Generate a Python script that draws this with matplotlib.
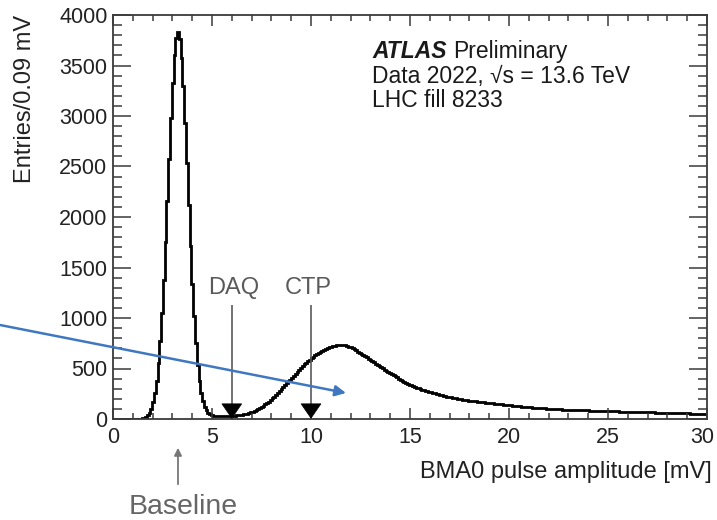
import numpy as np
import matplotlib
matplotlib.use("Agg")
import matplotlib.pyplot as plt
from matplotlib.patches import Polygon, FancyArrowPatch
from matplotlib.ticker import MultipleLocator, FuncFormatter

plt.rcParams['font.family'] = ['Liberation Sans', 'DejaVu Sans']

# ---------------- data ----------------
bin_width = 0.09  # mV
counts = [
    0, 0, 0, 0, 0, 0, 0, 0, 0, 0, 0, 0, 0,
    1, 2, 3, 6, 11, 21, 37, 62, 103, 164,
    254, 380, 550, 772, 1048, 1378, 1753, 2161, 2578, 2977,
    3329, 3603, 3775, 3830, 3762, 3576, 3293, 2935, 2532, 2115,
    1712, 1341, 1018, 750, 536, 379, 260, 178, 122, 86,
    62, 48, 39, 34, 32, 31, 30, 30, 30, 30,
    30, 31, 31, 32, 33, 34, 35, 38, 40, 42,
    45, 49, 54, 60, 66, 73, 81, 89, 98, 108, 119, 131, 144, 158,
    172, 187, 203, 221, 240, 259, 279, 299, 318, 337, 355, 373, 391, 409,
    429, 449, 468, 487, 506, 524, 541, 558, 574, 589,
    604, 618, 631, 644, 656, 667, 677, 687, 696, 704,
    711, 717, 722, 727, 731, 734, 735, 735, 733, 729,
    724, 717, 709, 700, 690, 679, 667, 655, 645, 633,
    621, 609, 597, 585, 573, 561, 549, 537, 525, 513,
    501, 489, 477, 466, 455, 444, 433, 422, 411, 400,
    389, 379, 369, 359, 349, 340, 332, 324, 316, 309,
    302, 296, 290, 284, 278, 273, 268, 263, 258, 253,
    248, 243, 239, 234, 230, 226, 222, 218, 214, 210,
    207, 204, 201, 198, 195, 192, 189, 186, 183, 180,
    178, 176, 174, 172, 170, 168, 166, 164, 162, 160,
    158, 156, 154, 152, 150, 148, 146, 144, 142, 140,
    139, 137, 135, 133, 131, 129, 127, 125, 123, 121,
    119, 117, 115, 114, 112, 111, 110, 109, 107, 106,
    105, 104, 103, 102, 101, 100, 99, 98, 97, 96,
    95, 94, 94, 93, 92, 92, 91, 90, 90, 89,
    88, 88, 87, 86, 86, 85, 84, 84, 83, 82,
    82, 81, 80, 80, 79, 78, 78, 77, 77, 76,
    76, 75, 75, 74, 74, 73, 73, 72, 72, 71,
    71, 70, 70, 69, 69, 68, 68, 67, 67, 66,
    66, 65, 65, 64, 64, 63, 63, 62, 62, 61,
    61, 60, 60, 59, 59, 58, 58, 57, 57, 56,
    56, 55, 55, 54, 54, 53, 53, 53, 52, 52,
    52, 51, 51,
]
thresholds = ["DAQ", "CTP"]
threshold_mV = [6.0, 10.0]
baseline_mV = 3.3
x_max = 30

x_label = "BMA0 pulse amplitude [mV]"
y_label = "Entries/0.09 mV"
atlas_lines = ["Data 2022, \u221as = 13.6 TeV", "LHC fill 8233"]

# ---------------- figure ----------------
W, H = 717, 520
fig = plt.figure(figsize=(W / 100, H / 100), dpi=100)
ax = fig.add_axes([113 / W, 1 - 419 / H, 594 / W, 404 / H])

edges = np.arange(len(counts) + 1) * bin_width
ax.stairs(counts, edges, color='black', lw=2.0, baseline=None)

ax.set_xlim(0, x_max)
ax.set_ylim(0, 4000)
ax.xaxis.set_major_locator(MultipleLocator(5))
ax.xaxis.set_minor_locator(MultipleLocator(1))
ax.yaxis.set_major_locator(MultipleLocator(500))
ax.yaxis.set_minor_locator(MultipleLocator(100))
# the last x label is drawn separately, nudged inside the figure edge
ax.xaxis.set_major_formatter(FuncFormatter(
    lambda v, p: '' if abs(v - x_max) < 1e-9 else f'{v:g}'))

axis_col = '#3a3a3a'
tick_font = 15.5
for s in ax.spines.values():
    s.set_color(axis_col)
    s.set_linewidth(1.3)
ax.tick_params(which='both', direction='in', top=True, right=True,
               colors=axis_col, labelcolor='#222222', labelsize=tick_font, width=1.1)
ax.tick_params(axis='x', which='major', length=8, pad=6)
ax.tick_params(axis='x', which='minor', length=4)
ax.tick_params(axis='y', which='major', length=13, pad=4)
ax.tick_params(axis='y', which='minor', length=6.5)

ax.annotate(f'{x_max:g}', xy=(x_max, 0), xycoords='data', xytext=(-3.5, -6),
            textcoords='offset points', ha='center', va='top',
            fontsize=tick_font, color='#222222', annotation_clip=False)

ax.set_xlabel(x_label, fontsize=17, color='#222222', loc='right')
ax.xaxis.set_label_coords(1 + 5 / 594, -0.105)
ax.set_ylabel(y_label, fontsize=17, color='#222222', loc='top')
ax.yaxis.set_label_coords(-0.13, 1.0)

# ATLAS label
t_atlas = fig.text(372 / W, 1 - 58 / H, "ATLAS", fontsize=16.5, fontweight='bold',
                   fontstyle='italic', color='#1a1a1a', va='baseline')
ax.annotate("Preliminary", xy=(1, 0), xycoords=t_atlas, xytext=(5, 0),
            textcoords='offset points', fontsize=16.5, color='#1a1a1a', va='bottom')
for k, line in enumerate(atlas_lines):
    fig.text(372 / W, 1 - (83 + 24 * k) / H, line, fontsize=16.5, color='#1a1a1a',
             va='baseline')

# threshold arrows
gray = '#5a5a5a'
label_x_shift = [0.1, -0.13]
for name, xv, dx in zip(thresholds, threshold_mV, label_x_shift):
    ax.text(xv + dx, 1235, name, fontsize=17, color=gray, ha='center', va='baseline')
    ax.plot([xv, xv], [1130, 140], color=gray, lw=1.2, solid_capstyle='butt')
    ax.add_patch(Polygon([[xv - 0.5, 150], [xv + 0.5, 150], [xv, 8]], closed=True,
                         facecolor='black', edgecolor='black', lw=0.5, zorder=4))

# Baseline annotation (below the axis)
fig.text(183 / W, 1 - 514 / H, "Baseline", fontsize=20.5, color='#666666',
         ha='center', va='baseline')
fig.add_artist(FancyArrowPatch((178 / W, 1 - 487 / H), (178 / W, 1 - 445 / H),
                               transform=fig.transFigure, arrowstyle='-|>',
                               mutation_scale=11, color='#777777', lw=1.3))

# Blue arrow across the plot
fig.add_artist(FancyArrowPatch((0 / W, 1 - 325 / H), (346 / W, 1 - 393 / H),
                               transform=fig.transFigure, arrowstyle='-|>',
                               mutation_scale=16, color='#3f78c0', lw=1.8,
                               shrinkA=0, shrinkB=0, zorder=10))

fig.savefig("out.png", dpi=100)
